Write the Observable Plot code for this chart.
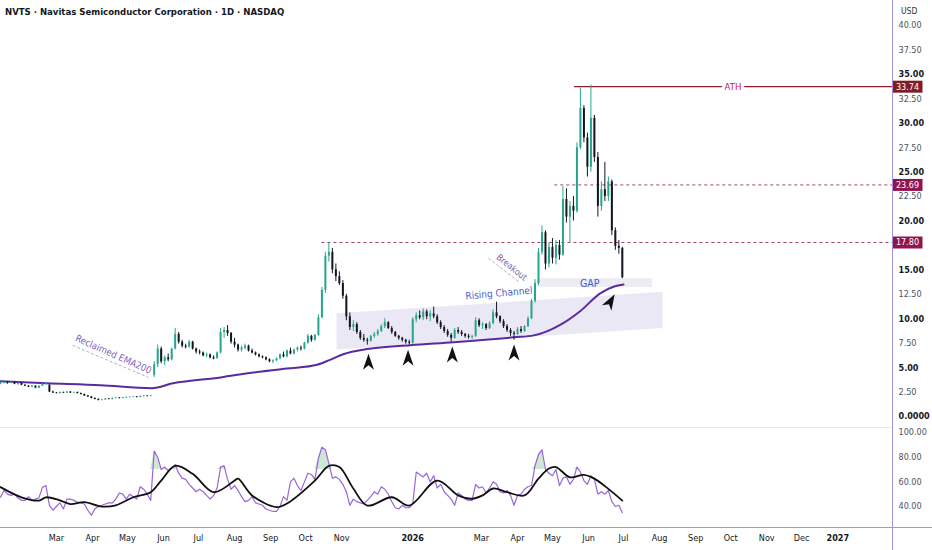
<!DOCTYPE html>
<html><head><meta charset="utf-8">
<script src="https://cdn.jsdelivr.net/npm/d3@7"></script>
<script src="https://cdn.jsdelivr.net/npm/@observablehq/plot@0.6"></script>
<style>
body{margin:0;background:#fff;}
#wrap{position:relative;width:932px;height:550px;overflow:hidden;background:#fff;font-family:"Liberation Sans Narrow","DejaVu Sans Condensed","Liberation Sans",sans-serif;}
#price,#rsi{position:absolute;left:0;}
#price{top:0}
#rsi{top:427px}
.title{position:absolute;left:5px;top:6px;font-size:9.5px;font-weight:bold;color:#131722;white-space:nowrap;}
.usd{position:absolute;left:899px;top:6px;font-size:8.5px;color:#333;background:#fff;padding:0 2px;}
.vline{position:absolute;left:892px;top:0;width:1px;height:550px;background:#a394d8;}
.hline{position:absolute;left:0;top:527px;width:932px;height:1px;background:#a394d8;}
.sep{position:absolute;left:0;top:427px;width:892px;height:1px;background:#e8e8ee;}
</style></head>
<body>
<div id="wrap">
  <div class="sep"></div>
  <div id="price"></div>
  <div id="rsi"></div>
  <div class="hline"></div>
  <div class="vline"></div>
  <div class="title">NVTS · Navitas Semiconductor Corporation · 1D · NASDAQ</div>
  <div class="usd">USD</div>
</div>
<script>
// ---------- data ----------
const firstBar = "2025-01-12";   // bars every 3 calendar days
const candles = [ // [open, high, low, close]
[3.3,3.5,3.25,3.4],[3.4,3.6,3.35,3.5],[3.5,3.55,3.3,3.4],[3.4,3.6,3.35,3.5],[3.5,3.55,3.25,3.3],
[3.3,3.45,3.2,3.4],[3.4,3.45,3.15,3.2],[3.2,3.25,3.05,3.1],[3.1,3.15,2.95,3.0],[3.0,3.2,2.95,3.1],
[3.1,3.15,2.85,2.9],[2.9,3.15,2.85,3.1],[3.1,3.35,3.05,3.3],[3.3,3.5,3.2,3.4],[3.2,3.25,2.45,2.5],
[2.5,2.6,2.35,2.4],[2.4,2.45,2.3,2.35],[2.35,2.5,2.3,2.45],[2.45,2.5,2.35,2.4],[2.4,2.55,2.35,2.5],
[2.5,2.55,2.35,2.4],[2.4,2.5,2.35,2.45],[2.45,2.5,2.3,2.35],[2.35,2.4,2.2,2.25],[2.25,2.3,2.05,2.1],
[2.1,2.15,1.95,2.0],[2.0,2.05,1.8,1.85],[1.85,1.9,1.7,1.75],[1.75,1.8,1.6,1.65],[1.65,1.75,1.6,1.7],
[1.7,1.85,1.65,1.8],[1.8,1.85,1.7,1.75],[1.75,1.9,1.7,1.85],[1.85,1.95,1.8,1.9],[1.9,1.95,1.8,1.85],
[1.85,1.95,1.8,1.9],[1.9,2.0,1.85,1.95],[1.93,2.0,1.9,1.97],[1.97,2.05,1.92,2.0],[2.0,2.05,1.9,1.95],
[1.95,2.1,1.92,2.05],[2.05,2.15,2.0,2.1],[2.1,2.12,2.0,2.05],[2.05,2.15,2.0,2.1],
[4.2,5.6,4.0,5.3],[5.3,7.3,5.0,6.9],[6.9,7.1,5.4,5.6],[5.6,6.2,5.2,6.0],[6.0,6.4,5.6,5.8],
[5.8,7.0,5.7,6.9],[6.9,9.0,6.8,8.4],[8.4,8.6,7.4,7.6],[7.6,7.8,7.0,7.2],[7.2,7.4,6.9,7.1],
[7.1,7.8,7.0,7.6],[7.6,7.7,6.8,6.9],[6.9,7.0,6.4,6.6],[6.6,6.8,6.3,6.5],[6.5,6.6,6.1,6.2],
[6.2,6.5,6.0,6.3],[6.3,6.4,5.9,6.0],[6.0,6.2,5.8,5.9],[5.9,6.6,5.9,6.5],[6.5,9.0,6.4,8.6],
[8.6,9.1,8.0,8.8],[8.8,9.3,8.2,8.5],[8.5,8.6,7.4,7.6],[7.6,8.0,7.0,7.3],[7.3,7.4,6.6,6.8],
[6.8,7.2,6.6,7.0],[7.0,7.4,6.8,7.2],[7.2,7.3,6.6,6.7],[6.7,6.9,6.4,6.5],[6.5,6.6,6.2,6.3],
[6.3,6.4,6.0,6.1],[6.1,6.2,5.9,6.0],[6.0,6.1,5.7,5.8],[5.8,5.9,5.5,5.6],[5.6,5.8,5.4,5.7],
[5.7,6.0,5.6,5.9],[5.9,6.4,5.8,6.3],[6.3,6.6,6.0,6.1],[6.1,6.8,6.0,6.7],[6.7,7.0,6.3,6.4],
[6.4,6.9,6.3,6.8],[6.8,7.1,6.6,7.0],[7.0,7.2,6.7,6.9],[6.9,7.6,6.8,7.5],[7.5,8.4,7.4,8.2],
[8.2,8.3,7.6,7.8],[7.8,8.4,7.7,8.3],[8.3,10.4,8.2,10.1],[10.1,13.2,10.0,12.9],[12.9,16.8,12.6,16.4],
[16.4,17.8,15.8,16.8],[16.8,17.2,14.6,15.0],[15.0,15.6,13.8,14.3],[14.3,14.8,13.4,13.6],[13.6,13.9,12.0,12.3],
[12.3,12.5,9.8,10.2],[10.2,10.6,8.8,9.1],[9.1,9.8,8.7,9.4],[9.4,9.6,8.4,8.6],[8.6,8.8,7.8,8.0],
[8.0,8.4,7.6,7.8],[7.8,8.0,7.3,7.7],[7.7,8.3,7.6,8.2],[8.2,8.6,8.0,8.4],[8.4,8.9,8.2,8.7],
[8.7,9.4,8.6,9.2],[9.2,10.0,9.0,9.6],[9.6,9.7,8.9,9.0],[9.0,9.2,8.4,8.6],[8.6,8.7,8.1,8.2],
[8.2,8.3,7.8,8.0],[8.0,8.1,7.6,7.8],[7.8,7.9,7.4,7.6],[7.6,7.8,7.3,7.5],[7.5,10.1,7.4,9.9],
[9.9,10.6,9.6,10.3],[10.3,10.8,9.9,10.1],[10.1,11.0,9.8,10.7],[10.7,10.9,9.9,10.2],[10.2,10.8,9.7,10.5],
[10.5,11.2,10.0,10.2],[10.2,10.4,9.4,9.6],[9.6,9.8,8.9,9.1],[9.1,9.3,8.5,8.7],[8.7,8.9,8.1,8.3],
[8.3,8.5,7.6,8.0],[8.0,9.0,7.9,8.8],[8.8,9.1,8.4,8.6],[8.6,8.8,8.2,8.4],[8.4,8.5,8.0,8.2],
[8.2,8.4,7.9,8.1],[8.1,8.3,7.9,8.2],[8.2,10.1,8.1,9.8],[9.8,10.0,9.1,9.3],[9.3,9.6,8.9,9.4],
[9.4,9.5,8.8,9.0],[9.0,9.7,8.9,9.5],[9.5,10.9,9.4,10.6],[10.6,11.7,10.0,10.2],[10.2,10.3,9.5,9.7],
[9.7,9.9,9.0,9.2],[9.2,9.4,8.6,8.8],[8.8,9.0,8.2,8.5],[8.5,8.7,7.8,8.4],[8.4,9.1,8.3,8.9],
[8.9,9.2,8.5,8.7],[8.7,9.3,8.6,9.2],[9.2,10.2,9.1,10.0],[10.0,12.0,9.9,11.8],[11.8,14.0,11.6,13.6],
[13.6,17.2,13.4,16.8],[16.8,19.5,16.5,18.8],[18.8,19.0,15.0,15.6],[15.6,17.8,15.2,17.3],[17.3,18.2,15.6,16.2],
[16.2,18.0,15.5,17.5],[17.5,18.0,16.0,16.5],[16.5,23.5,16.4,22.2],[22.2,23.3,19.8,20.4],[20.4,22.0,17.7,21.5],
[21.5,22.5,20.0,21.0],[21.0,28.0,20.8,27.5],[27.5,33.6,27.3,31.5],[31.5,31.8,28.0,28.5],[28.5,29.0,24.5,25.5],
[25.5,33.9,25.0,30.5],[30.5,30.8,26.0,26.5],[26.5,27.0,20.4,21.5],[21.5,24.0,21.0,23.2],[23.2,26.0,22.0,22.5],
[22.5,24.5,22.0,24.0],[24.0,24.2,18.5,19.0],[19.0,19.3,17.0,17.4],[17.4,18.0,16.6,17.2],[17.2,17.3,14.1,14.2]
];
const rsiValues = [
47.6,53,50,49,50,47,45,45,48,45, 46,47,55.5,57,41,37,40,43,38,46,
46,45,43.5,43,42,37,33,38,40,41, 42,43,43,46,51,50,46,50,48,46,
56,54,50,45,85,80,70,72,69,71, 74,67,63,62,58,55,52,54,52,49,
46,49,55,72,73,62,54,57,53,48, 44,45,48,43,42,41,38,37,36,36,
40,48,45,60,63,57,53,60,67,66, 62,79,88,86,75,63,64,62,58,52,
41,46,44,43,42,45,48,52,50,56, 54,50,44,39,38,41,39,39,42,68,
66,64,67,60,65,55,58,52,49,46, 41,51,49,46,45,45,58,55,56,51,
55,60,58,52,51,53,49,41,49,50, 54,56,57,73,82,86,70,67,65,70,
57,63,64,58,62,72,68,61,58,65, 62,50,52,50,53,44,40,41,35
];
const rsiMA = [ // [bar index, value]
[0,55.7],[6,47.5],[11,44.8],[13,47.5],[17,45],[20,42],[24,43.5],[29,40],[33,41],[38,47.5],
[43,51.6],[46,61],[50,73],[55,66.5],[61,51.6],[67,61],[68,62.6],[72,49],[79,39.5],[82,42.4],
[90,61],[94,73],[97,72],[101,54.6],[105,40.8],[112,47.5],[117,40.8],[125,61],[131,49],[135,46.3],
[138,49],[141,54.6],[145,51.6],[150,49],[154,62.6],[157,70.8],[159,72],[163,63.7],[167,65.7],
[170,62.6],[174,54.3],[178,44.8]
];
const ema200 = [
["2025-01-12",3.6],["2025-02-21",3.4],["2025-04-08",3.2],["2025-05-22",2.9],["2025-06-09",3.4],
["2025-07-20",4.0],["2025-08-17",4.5],["2025-09-15",4.9],["2025-10-11",5.3],["2025-10-22",5.8],
["2025-11-03",6.4],["2025-11-23",6.9],["2025-12-30",7.3],["2026-02-05",7.6],["2026-03-29",8.1],
["2026-04-15",8.3],["2026-05-08",9.4],["2026-05-25",10.8],["2026-06-11",12.6],["2026-06-23",13.3],
["2026-07-01",13.5]
];
const athLevel = [{price:33.74, from:"2026-05-20", label:"ATH", labelAt:"2026-10-03"}];
const dashedLevels = [{price:23.69, from:"2026-05-03"},{price:17.80, from:"2025-10-15"}];
const channelBand = [{date:"2025-10-28", low:6.8, high:10.5},{date:"2026-08-04", low:9.0, high:12.7}];
const gapBox = [{from:"2026-04-18", to:"2026-07-26", low:13.2, high:14.1}];
const swingArrows = [{date:"2025-11-24", price:5.6},{date:"2025-12-28", price:6.0},{date:"2026-02-04", price:6.35},{date:"2026-03-29", price:6.55}];
const gapArrow = [{date:"2026-06-20", price:11.8}];
const notes = [
  {date:"2025-04-19", price:6.35, text:"Reclaimed EMA200", rotate:24, color:"#7a68b8", size:9.5},
  {date:"2026-03-27", price:15.25, text:"Breakout", rotate:39, color:"#7364b2", size:9},
  {date:"2026-03-16", price:12.6, text:"Rising Channel", rotate:-5, color:"#4a62d8", size:10},
  {date:"2026-06-02", price:13.6, text:"GAP", rotate:0, color:"#3d5bd9", size:10.5}
];
const noteLines = [
  {d1:"2025-03-15", p1:7.27, d2:"2025-05-19", p2:4.0},
  {d1:"2026-03-07", p1:16.2, d2:"2026-04-03", p2:13.7}
];
const priceTicksMajor = [0,5,10,15,20,25,30,35];
const priceTicksMinor = [2.5,7.5,12.5,22.5,27.5,32.5,37.5,40];
const rsiTicks = [40,60,80,100];
const monthDates = ["2025-03-01","2025-04-01","2025-05-01","2025-06-01","2025-07-01","2025-08-01","2025-09-01","2025-10-01","2025-11-01",
  "2026-03-01","2026-04-01","2026-05-01","2026-06-01","2026-07-01","2026-08-01","2026-09-01","2026-10-01","2026-11-01","2026-12-01"];
const monthLabels = ["Mar","Apr","May","Jun","Jul","Aug","Sep","Oct","Nov","Mar","Apr","May","Jun","Jul","Aug","Sep","Oct","Nov","Dec"];
const yearDates = ["2026-01-01","2027-01-01"];
const yearLabels = ["2026","2027"];

// ---------- build ----------
const FONT = '"Liberation Sans Narrow","DejaVu Sans Condensed","Liberation Sans",sans-serif';
const DAY = 864e5;
const X0 = new Date("2025-01-12"), X1 = new Date("2027-02-17");
const t0 = new Date(firstBar).getTime();
const bars = candles.map(([o,h,l,c],i)=>({date:new Date(t0+3*i*DAY),o,h,l,c,up:c>=o}));
const rsiRows = rsiValues.map((v,i)=>({date:new Date(t0+3*i*DAY), v}));
const maRows = rsiMA.map(([i,v])=>({date:new Date(t0+3*i*DAY), v}));
const emaRows = ema200.map(([d,v])=>({date:new Date(d), v}));
const D = s => new Date(s);
const UP = "#26a68c", DOWN = "#131722";

const chevron = {draw(ctx){ctx.moveTo(0,-8);ctx.lineTo(5.5,8);ctx.lineTo(0,3.5);ctx.lineTo(-5.5,8);ctx.closePath();}};
function rotated(deg){const a=deg*Math.PI/180,c=Math.cos(a),s=Math.sin(a);const p=[[0,-8],[5.5,8],[0,3.5],[-5.5,8]];
  return {draw(ctx){p.forEach(([x,y],k)=>{const X=x*c-y*s,Y=x*s+y*c;k?ctx.lineTo(X,Y):ctx.moveTo(X,Y);});ctx.closePath();}};}
const box = {draw(ctx){ctx.rect(-15,-6,30,12);}};

const price = Plot.plot({
  width:932, height:427, marginLeft:0, marginRight:40, marginTop:25, marginBottom:11,
  x:{type:"utc", domain:[X0,X1], axis:null},
  y:{domain:[0,40], label:null},
  style:{fontFamily:FONT, fontSize:"9px", background:"transparent", overflow:"visible"},
  marks:[
    Plot.areaY(channelBand, {x:d=>D(d.date), y1:"low", y2:"high", fill:"#ebe8f6"}),
    Plot.rect(gapBox, {x1:d=>D(d.from), x2:d=>D(d.to), y1:"low", y2:"high", fill:"#ececf3"}),
    Plot.ruleY(dashedLevels, {y:"price", x1:d=>D(d.from), x2:()=>X1, stroke:"#a8415f", strokeWidth:1, strokeDasharray:"3,3"}),
    Plot.ruleY(athLevel, {y:"price", x1:d=>D(d.from), x2:()=>X1, stroke:"#8e1b2d", strokeWidth:1.3}),
    Plot.text(athLevel, {x:d=>D(d.labelAt), y:"price", text:"label", fill:"#c2185b", stroke:"white", strokeWidth:7, paintOrder:"stroke", fontSize:9.5}),
    Plot.link(noteLines, {x1:d=>D(d.d1), y1:"p1", x2:d=>D(d.d2), y2:"p2", stroke:"#b5acd3", strokeWidth:1, strokeDasharray:"3,2"}),
    Plot.line(emaRows, {x:"date", y:"v", stroke:"#5a2aa0", strokeWidth:2, curve:"monotone-x"}),
    Plot.ruleX(bars.filter(d=>d.up), {x:"date", y1:"l", y2:"h", stroke:UP, strokeWidth:1}),
    Plot.ruleX(bars.filter(d=>!d.up), {x:"date", y1:"l", y2:"h", stroke:DOWN, strokeWidth:1}),
    Plot.ruleX(bars.filter(d=>d.up), {x:"date", y1:"o", y2:"c", stroke:UP, strokeWidth:2}),
    Plot.ruleX(bars.filter(d=>!d.up), {x:"date", y1:"o", y2:"c", stroke:DOWN, strokeWidth:2}),
    ...notes.map(n=>Plot.text([n], {x:d=>D(d.date), y:"price", text:"text", rotate:n.rotate, fill:n.color, fontSize:n.size})),
    Plot.dot(swingArrows, {x:d=>D(d.date), y:"price", symbol:chevron, fill:"#111", stroke:"none"}),
    Plot.dot(gapArrow, {x:d=>D(d.date), y:"price", symbol:rotated(30), fill:"#111", stroke:"none"}),
    Plot.axisY(priceTicksMinor, {anchor:"right", label:null, tickSize:0, tickPadding:6, tickFormat:d=>d.toFixed(2), fill:"#50535e", fontSize:9}),
    Plot.axisY(priceTicksMajor, {anchor:"right", label:null, tickSize:0, tickPadding:6, tickFormat:d=>d===0?"0.0000":d.toFixed(2), fill:"#131722", fontWeight:"bold", fontSize:9}),
    Plot.dot(athLevel, {y:"price", frameAnchor:"right", dx:15, symbol:box, fill:"#7f1d24", stroke:"none"}),
    Plot.dot(dashedLevels, {y:"price", frameAnchor:"right", dx:15, symbol:box, fill:"#8e1550", stroke:"none"}),
    Plot.text([...athLevel, ...dashedLevels], {y:"price", frameAnchor:"right", dx:15, textAnchor:"middle", text:d=>d.price.toFixed(2), fill:"white", fontSize:9})
  ]
});
document.getElementById("price").append(price);

const rsi = Plot.plot({
  width:932, height:123, marginLeft:0, marginRight:40, marginTop:5, marginBottom:23,
  x:{type:"utc", domain:[X0,X1], axis:null},
  y:{domain:[23,100], label:null},
  style:{fontFamily:FONT, fontSize:"9px", background:"transparent", overflow:"visible"},
  marks:[
    Plot.areaY(rsiRows, {x:"date", y1:70, y2:d=>Math.max(d.v,70), fill:"#a8d5b2", fillOpacity:0.55}),
    Plot.line(rsiRows, {x:"date", y:"v", stroke:"#9a66d6", strokeWidth:1.2}),
    Plot.line(maRows, {x:"date", y:"v", stroke:"#111", strokeWidth:1.8, curve:"catmull-rom"}),
    Plot.axisY(rsiTicks, {anchor:"right", label:null, tickSize:0, tickPadding:6, tickFormat:d=>d.toFixed(2), fill:"#50535e", fontSize:9}),
    Plot.text(monthDates, {x:d=>D(d), text:(d,i)=>monthLabels[i], frameAnchor:"bottom", dy:13, fill:"#131722", fontSize:9}),
    Plot.text(yearDates, {x:d=>D(d), text:(d,i)=>yearLabels[i], frameAnchor:"bottom", dy:13, fill:"#131722", fontWeight:"bold", fontSize:9})
  ]
});
document.getElementById("rsi").append(rsi);
</script>
</body></html>
